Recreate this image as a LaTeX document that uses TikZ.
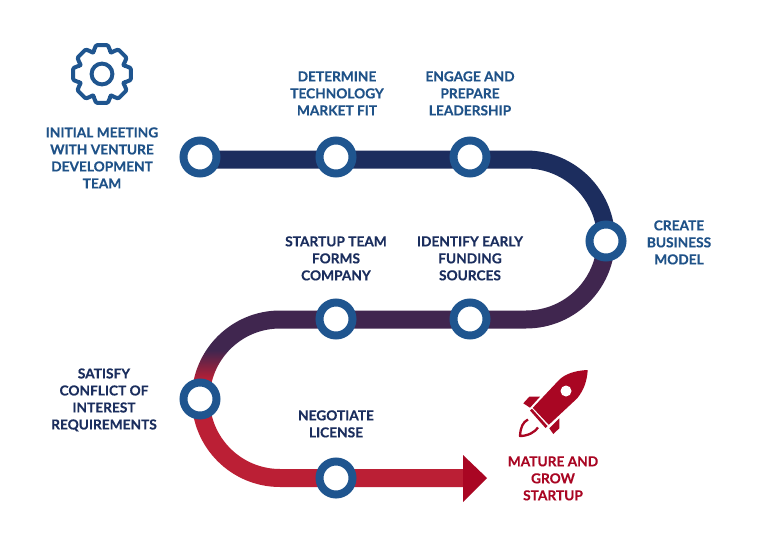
\documentclass[tikz,border=0pt]{standalone}
\usepackage{fontspec}
\setmainfont{Lato}[BoldFont=* Bold,BoldFeatures={FakeBold=0.35}]
\definecolor{ringblue}{HTML}{1F558F}
\definecolor{txtblue}{HTML}{1F5288}
\definecolor{txtnavy}{HTML}{1B2E5E}
\definecolor{roadnavy}{HTML}{1C2D5E}
\definecolor{roadpurple}{HTML}{40264F}
\definecolor{roadred}{HTML}{BB1F35}
\definecolor{deepred}{HTML}{A90623}
\pgfdeclareverticalshading{roadshade}{100bp}{color(0bp)=(roadred); color(40.9bp)=(roadred); color(45.3bp)=(roadpurple); color(58.4bp)=(roadpurple); color(61.6bp)=(roadnavy); color(100bp)=(roadnavy)}
\tikzset{
  x=1pt,y=-1pt,
  ring/.style={circle,draw=ringblue,fill=white,line width=8pt,minimum size=33pt,inner sep=0pt},
  lab/.style={align=center,inner sep=0pt,font=\fontsize{13.7}{17}\selectfont\bfseries},
  labblue/.style={lab,text=txtblue},
  labnavy/.style={lab,text=txtnavy},
  labred/.style={lab,text=deepred},
}
\begin{document}
\begin{tikzpicture}
\useasboundingbox[fill=white] (0,0) rectangle (760,543);
% road
\shade[shading=roadshade]
  (199,150.5) -- (526,150.5) arc[start angle=-90,end angle=90,radius=89]
  -- (280,328.5) arc[start angle=-90,end angle=-270,radius=70.25]
  -- (463,469) -- (463,487) -- (280,487) arc[start angle=90,end angle=270,radius=88.25]
  -- (526,310.5) arc[start angle=90,end angle=-90,radius=71]
  -- (199,168.5) -- cycle;
\fill[deepred] (463,455) -- (487,478) -- (463,502) -- cycle;
% rings
\foreach \n/\px/\py in {a/200/157,b/336/157,c/470/157,d/606/241,e/470/319,f/336/319,g/200/399,h/336/478}
  \node[ring] (\n) at (\px,\py) {};
% labels
\node[labblue] (l1) at (102,157.9) {INITIAL MEETING\\WITH VENTURE\\DEVELOPMENT\\TEAM};
\node[labblue] (l2) at (337,93.4) {DETERMINE\\TECHNOLOGY\\MARKET FIT};
\node[labblue] (l3) at (470,93.4) {ENGAGE AND\\PREPARE\\LEADERSHIP};
\node[labblue] (l4) at (679,242.4) {CREATE\\BUSINESS\\MODEL};
\node[labnavy] (l5) at (336,258.4) {STARTUP TEAM\\FORMS\\COMPANY};
\node[labnavy] (l6) at (470,258.4) {IDENTIFY EARLY\\FUNDING\\SOURCES};
\node[labnavy] (l7) at (104,399.9) {SATISFY\\CONFLICT OF\\INTEREST\\REQUIREMENTS};
\node[labnavy] (l8) at (336,423.9) {NEGOTIATE\\LICENSE};
\node[labred] (l9) at (553,478.4) {MATURE AND\\GROW\\STARTUP};
% gear
\draw[ringblue,line width=4pt,line join=round,rounded corners=1.2pt]
  \foreach \a [count=\i from 0] in {0,45,...,315} {
    \ifnum\i=0 ({102+cos(\a-22)*23.5},{74+sin(\a-22)*23.5}) \else -- ({102+cos(\a-22)*23.5},{74+sin(\a-22)*23.5}) \fi
    -- ({102+cos(\a-11.5)*29.5},{74+sin(\a-11.5)*29.5})
    -- ({102+cos(\a+11.5)*29.5},{74+sin(\a+11.5)*29.5})
    -- ({102+cos(\a+22)*23.5},{74+sin(\a+22)*23.5})
  } -- cycle;
\draw[ringblue,line width=4pt] (102,74) circle[radius=10.4];
% rocket
\fill[deepred]
  (587.7,370) .. controls (575,370.5) and (565,374) .. (559,380)
  -- (532.8,407.8) -- (548.8,424.8) -- (577,398.5)
  .. controls (584,390) and (587,381) .. (587.7,370) -- cycle;
\fill[white] (566,391) circle[radius=5.5];
\fill[deepred] (530,410.5) -- (532,408.8) -- (547.5,426) -- (545.5,428) -- cycle;
\fill[deepred] (523.3,403.3) -- (529.3,396.7) -- (540,396.7) -- (530,407.7) -- cycle;
\fill[deepred] (549.3,428.3) -- (559.3,418.3) -- (559.3,428.3) -- (553.3,434) -- cycle;
\draw[deepred,line width=2.3pt,line join=round]
  (528,419.5) .. controls (523,422) and (520.5,427) .. (520,436)
  .. controls (528,436) and (535,432) .. (538,427.5);
\end{tikzpicture}
\end{document}
